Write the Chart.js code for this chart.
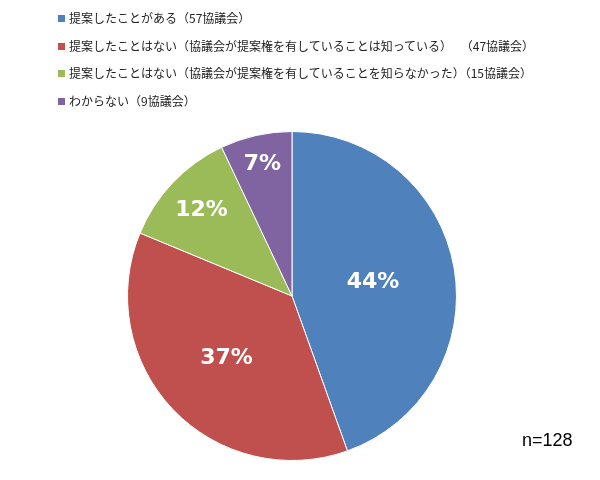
<!DOCTYPE html>
<html><head><meta charset="utf-8">
<script src="https://cdn.jsdelivr.net/npm/chart.js@4"></script>
<style>
body{margin:0;background:#fff;font-family:"Noto Sans CJK JP",sans-serif}
#wrap{position:relative;width:600px;height:480px}
#legend{position:absolute;left:58px;top:10px;font-size:12px;color:#222}
#legend div{height:27.5px;line-height:16px;white-space:pre}
#legend span{display:inline-block;width:7px;height:7px;margin-right:4px;vertical-align:1px}
#n{position:absolute;left:522px;top:430px;font:18px "Liberation Sans",sans-serif;color:#000}
</style></head><body>
<div id="wrap"><canvas id="c" width="600" height="480"></canvas><div id="legend"></div><div id="n">n=128</div></div>
<script>
const labels = ['提案したことがある（57協議会）',
  '提案したことはない（協議会が提案権を有していることは知っている）　 （47協議会）',
  '提案したことはない（協議会が提案権を有していることを知らなかった）（15協議会）',
  'わからない（9協議会）']
const counts = [57, 47, 15, 9]
const pctLabels = ['44%', '37%', '12%', '7%']
const colors = ['#4f81bd', '#c0504d', '#9bbb59', '#8064a2']

const lg = document.getElementById('legend')
labels.forEach((t, i) => {
  const d = document.createElement('div')
  d.innerHTML = `<span style="background:${colors[i]}"></span>` + t
  lg.appendChild(d)
})

const labelPos = [0.5, 0.55, 0.76, 0.82]
const pctPlugin = {
  id: 'pct',
  afterDatasetsDraw(chart) {
    const ctx = chart.ctx
    ctx.save()
    ctx.fillStyle = '#fff'
    ctx.font = 'bold 22px "DejaVu Sans", sans-serif'
    ctx.textAlign = 'center'
    ctx.textBaseline = 'middle'
    chart.getDatasetMeta(0).data.forEach((arc, i) => {
      const a = (arc.startAngle + arc.endAngle) / 2
      const r = arc.outerRadius * labelPos[i]
      ctx.fillText(pctLabels[i], arc.x + Math.cos(a) * r, arc.y + Math.sin(a) * r)
    })
    ctx.restore()
  }
}

new Chart(document.getElementById('c'), {
  type: 'pie',
  data: { labels, datasets: [{ data: counts, backgroundColor: colors, borderColor: '#fff', borderWidth: 1 }] },
  options: {
    responsive: false, animation: false,
    layout: { padding: { left: 127, right: 143, top: 131, bottom: 19 } },
    plugins: { legend: { display: false }, tooltip: { enabled: false } }
  },
  plugins: [pctPlugin]
})
</script></body></html>
